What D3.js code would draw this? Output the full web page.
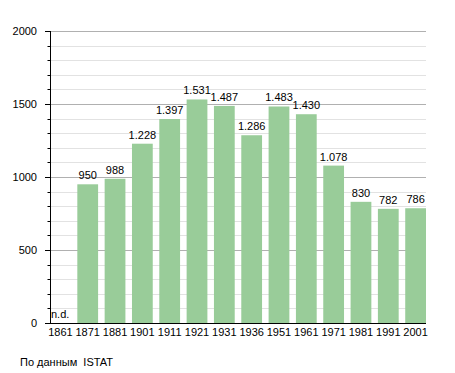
<!DOCTYPE html>
<html><head><meta charset="utf-8">
<script src="https://cdn.jsdelivr.net/npm/d3@7"></script>
<style>body{margin:0;background:#fff}svg{display:block}text{font-family:"Liberation Sans",Arial,sans-serif;font-size:11px;fill:#000}</style>
</head><body>
<script>
const years = ["1861","1871","1881","1901","1911","1921","1931","1936","1951","1961","1971","1981","1991","2001"];
const population = [null,950,988,1228,1397,1531,1487,1286,1483,1430,1078,830,782,786];
const majorTicks = [0,500,1000,1500,2000];
const minorTicks = d3.range(0,2001,100);
const source = "По данным  ISTAT";
const missingLabel = "n.d.";

const W=455,H=373;
const svg=d3.select("body").append("svg").attr("width",W).attr("height",H);
const x=d3.scaleBand().domain(years).range([50,426]).paddingInner(0.24).paddingOuter(0);
const y=d3.scaleLinear().domain([0,2000]).range([323,31]);
const fmt=d3.formatLocale({decimal:",",thousands:".",grouping:[3],currency:["",""]}).format(",d");

// grid
svg.append("g").selectAll("line").data(minorTicks.filter(t=>t%500!==0)).join("line")
 .attr("x1",50).attr("x2",426).attr("y1",d=>Math.round(y(d))+0.5).attr("y2",d=>Math.round(y(d))+0.5)
 .attr("stroke","#e2e2e2");
svg.append("g").selectAll("line").data(majorTicks.filter(t=>t>0)).join("line")
 .attr("x1",50).attr("x2",426).attr("y1",d=>Math.round(y(d))+0.5).attr("y2",d=>Math.round(y(d))+0.5)
 .attr("stroke","#b0b0b0");

// bars
const data=years.map((yr,i)=>({yr,v:population[i]}));
svg.append("g").selectAll("rect").data(data.filter(d=>d.v!=null)).join("rect")
 .attr("x",d=>x(d.yr)).attr("width",x.bandwidth())
 .attr("y",d=>y(d.v)).attr("height",d=>y(0)-y(d.v)).attr("fill","#99cc99");

// value labels
svg.append("g").selectAll("text").data(data.filter(d=>d.v!=null)).join("text")
 .attr("x",d=>x(d.yr)+x.bandwidth()/2).attr("y",d=>y(d.v)-5).attr("text-anchor","middle")
 .text(d=>fmt(d.v));
svg.append("text").attr("x",x(years[0])+1).attr("y",318).text(missingLabel);

// y axis
const ya=svg.append("g");
ya.append("line").attr("x1",50.5).attr("x2",50.5).attr("y1",y(2000)).attr("y2",y(0)).attr("stroke","#000");
ya.selectAll("line.mi").data(minorTicks.filter(t=>t%500!==0)).join("line").attr("class","mi")
 .attr("x1",47.5).attr("x2",50.5).attr("y1",d=>Math.round(y(d))+0.5).attr("y2",d=>Math.round(y(d))+0.5).attr("stroke","#000");
ya.selectAll("line.ma").data(majorTicks).join("line").attr("class","ma")
 .attr("x1",45).attr("x2",50.5).attr("y1",d=>Math.round(y(d))+0.5).attr("y2",d=>Math.round(y(d))+0.5).attr("stroke","#000");
ya.selectAll("text").data(majorTicks).join("text")
 .attr("x",37).attr("y",d=>y(d)+4).attr("text-anchor","end").text(d=>d);

// x axis
svg.append("line").attr("x1",45).attr("x2",426).attr("y1",323.5).attr("y2",323.5).attr("stroke","#000");
svg.append("g").selectAll("text").data(years).join("text")
 .attr("x",d=>x(d)+x.bandwidth()/2).attr("y",336).attr("text-anchor","middle").text(d=>d);

svg.append("text").attr("x",20).attr("y",366).style("white-space","pre").text(source);
</script>
</body></html>
